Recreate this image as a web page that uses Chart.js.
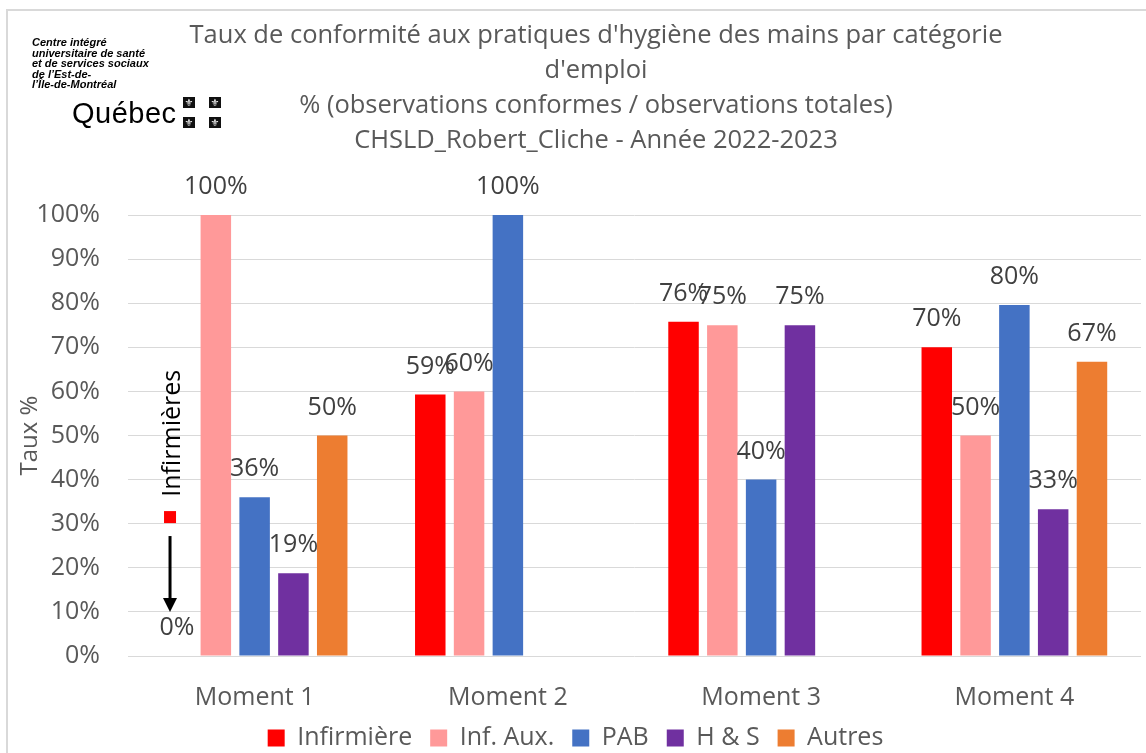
<!DOCTYPE html>
<html lang="fr">
<head>
<meta charset="utf-8">
<script src="https://cdn.jsdelivr.net/npm/chart.js@4/dist/chart.umd.min.js"></script>
<style>
    body { margin: 0; background: #fff; }
    #wrap { position: relative; width: 1146px; height: 753px; overflow: hidden; }
    #frame { position: absolute; left: 6px; top: 9px; right: -10px; bottom: -10px; border-left: 2px solid #d9d9d9; border-top: 2px solid #d9d9d9; }
    #title { position: absolute; left: 146px; width: 900px; top: 16px; text-align: center; font: 25.5px "Open Sans", sans-serif; line-height: 35px; color: #595959; }
    #logo { position: absolute; left: 32px; top: 37px; font: italic bold 11px "Liberation Sans", sans-serif; line-height: 10.5px; color: #000; }
    #quebec { position: absolute; left: 72px; top: 97px; font: 29px "Liberation Sans", sans-serif; color: #000; letter-spacing: 0.5px; }
    .flag { position: absolute; width: 12px; height: 11px; background: #111; color: #fff; font: 10px "DejaVu Sans", sans-serif; line-height: 11px; text-align: center; }
    canvas { position: absolute; left: 0; top: 0; }
</style>
</head>
<body>
<div id="wrap">
    <div id="frame"></div>
    <canvas id="chart" width="1146" height="753"></canvas>
    <div id="title">Taux de conformité aux pratiques d'hygiène des mains par catégorie<br>d'emploi<br>% (observations conformes / observations totales)<br>CHSLD_Robert_Cliche - Année 2022-2023</div>
    <div id="logo">Centre intégré<br>universitaire de santé<br>et de services sociaux<br>de l’Est-de-<br>l’Île-de-Montréal</div>
    <div id="quebec">Québec</div>
    <div class="flag" style="left:183px;top:97px">⚜</div>
    <div class="flag" style="left:209px;top:97px">⚜</div>
    <div class="flag" style="left:183px;top:117px">⚜</div>
    <div class="flag" style="left:209px;top:117px">⚜</div>
</div>
<script>
    // Categories and series (values in %)
    const moments = ['Moment 1', 'Moment 2', 'Moment 3', 'Moment 4'];
    const infirmiere = [0, 59.3, 75.8, 70];
    const infAux = [100, 60, 75, 50];
    const pab = [36, 100, 40, 79.6];
    const hs = [18.75, null, 75, 33.3];
    const autres = [50, null, null, 66.7];
    const yTicks = [0, 10, 20, 30, 40, 50, 60, 70, 80, 90, 100];

    const font = '"Open Sans", sans-serif';

    // Value labels above each bar
    const barLabels = {
        id: 'barLabels',
        afterDatasetsDraw(chart) {
            const ctx = chart.ctx;
            ctx.save();
            ctx.font = '25px ' + font;
            ctx.fillStyle = '#404040';
            ctx.textAlign = 'center';
            ctx.textBaseline = 'middle';
            chart.data.datasets.forEach((ds, i) => {
                chart.getDatasetMeta(i).data.forEach((bar, j) => {
                    const v = ds.data[j];
                    if (v === null) return;
                    ctx.fillText(Math.round(v) + '%', bar.x, bar.y - 28);
                });
            });
            ctx.restore();
        }
    };

    // Annotation near Moment 1 (Infirmières = 0%)
    const note = {
        id: 'note',
        afterDraw(chart) {
            const ctx = chart.ctx;
            const y = chart.scales.y;
            const bar = chart.getDatasetMeta(0).data[0];
            const x = bar.x - 7;
            ctx.save();
            ctx.fillStyle = '#ff0000';
            const sy = y.getPixelForValue(31.5);
            ctx.fillRect(x - 6, sy - 6, 12, 12);
            ctx.translate(x + 3, y.getPixelForValue(50.5));
            ctx.rotate(-Math.PI / 2);
            ctx.fillStyle = '#000';
            ctx.font = '25px ' + font;
            ctx.textAlign = 'center';
            ctx.textBaseline = 'middle';
            ctx.fillText('Infirmières', 0, 0);
            ctx.restore();
            ctx.save();
            const y1 = y.getPixelForValue(27.2), y2 = y.getPixelForValue(10);
            ctx.strokeStyle = '#000';
            ctx.fillStyle = '#000';
            ctx.lineWidth = 3;
            ctx.beginPath();
            ctx.moveTo(x, y1);
            ctx.lineTo(x, y2 - 12);
            ctx.stroke();
            ctx.beginPath();
            ctx.moveTo(x - 7, y2 - 14);
            ctx.lineTo(x + 7, y2 - 14);
            ctx.lineTo(x, y2);
            ctx.closePath();
            ctx.fill();
            ctx.restore();
        }
    };

    const series = [
        ['Infirmière', infirmiere, '#ff0000'],
        ['Inf. Aux.', infAux, '#ff9999'],
        ['PAB', pab, '#4472c4'],
        ['H & S', hs, '#7030a0'],
        ['Autres', autres, '#ed7d31']
    ];

    new Chart(document.getElementById('chart'), {
        type: 'bar',
        data: {
            labels: moments,
            datasets: series.map(s => ({
                label: s[0],
                data: s[1],
                backgroundColor: s[2],
                borderWidth: 0,
                categoryPercentage: 0.766,
                barPercentage: 0.786
            }))
        },
        options: {
            responsive: false,
            animation: false,
            layout: { padding: { left: 10, right: 5, top: 215, bottom: -7.5 } },
            plugins: {
                title: { display: false },
                tooltip: { enabled: false },
                legend: {
                    position: 'bottom',
                    labels: {
                        boxWidth: 17,
                        boxHeight: 17,
                        padding: 18,
                        color: '#595959',
                        font: { family: font, size: 25 }
                    }
                }
            },
            scales: {
                x: {
                    grid: { display: false },
                    border: { display: false },
                    ticks: { color: '#595959', padding: 19, font: { family: font, size: 25 } },
                    afterFit: s => { s.height = 51.5; }
                },
                y: {
                    min: 0,
                    max: 100,
                    afterBuildTicks: s => { s.ticks = yTicks.map(v => ({ value: v })); },
                    grid: { color: '#d9d9d9', lineWidth: 1, drawTicks: false },
                    border: { display: false },
                    ticks: {
                        color: '#595959',
                        padding: 28,
                        font: { family: font, size: 25 },
                        callback: v => v + '%'
                    },
                    title: {
                        display: true,
                        text: 'Taux %',
                        color: '#595959',
                        padding: 6,
                        font: { family: font, size: 24 }
                    },
                    afterFit: s => { s.width = 118; }
                }
            }
        },
        plugins: [barLabels, note]
    });
</script>
</body>
</html>
